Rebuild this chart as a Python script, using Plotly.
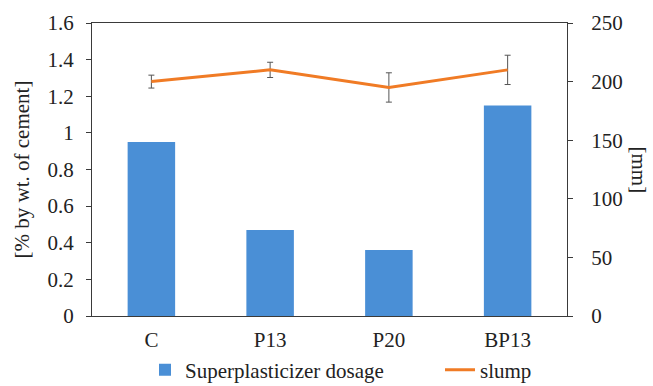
import plotly.graph_objects as go

categories = ["C", "P13", "P20", "BP13"]
sp_dosage = [0.95, 0.47, 0.36, 1.15]
slump = [200, 210, 195, 210]
slump_err = [5.5, 6.5, 12.5, 12.5]

left_ticks = [0, 0.2, 0.4, 0.6, 0.8, 1, 1.2, 1.4, 1.6]
left_labels = ["0", "0.2", "0.4", "0.6", "0.8", "1", "1.2", "1.4", "1.6"]
right_ticks = [0, 50, 100, 150, 200, 250]

FONT = "Liberation Serif"
FS = 21
AX = "#3a3a3a"

fig = go.Figure()
fig.add_trace(go.Bar(
    x=categories, y=sp_dosage, name="Superplasticizer dosage",
    marker=dict(color="#4a8fd6", line=dict(width=0)),
    yaxis="y", legend="legend",
))
fig.add_trace(go.Scatter(
    x=categories, y=slump, name="slump", mode="lines",
    line=dict(color="#f07b25", width=3),
    error_y=dict(type="data", array=slump_err, visible=True,
                 color="#555555", thickness=1, width=3),
    yaxis="y2", legend="legend2",
))

leg_common = dict(orientation="h", yref="container", y=(386 - 370) / 386,
                  yanchor="middle", font=dict(size=21, family=FONT),
                  bgcolor="rgba(0,0,0,0)")

fig.update_layout(
    width=653, height=386,
    margin=dict(l=92, r=86, t=23, b=70, autoexpand=False),
    paper_bgcolor="white", plot_bgcolor="white",
    font=dict(family=FONT, size=FS, color="#222222"),
    bargap=0.6,
    showlegend=True,
    legend=dict(x=(145 - 92) / 475, xanchor="left", **leg_common),
    legend2=dict(x=(440 - 92) / 475, xanchor="left", **leg_common),
    xaxis=dict(showline=True, linecolor=AX, linewidth=1.3, mirror=True,
               ticks="outside", ticklen=5, tickcolor="rgba(0,0,0,0)",
               ticklabelstandoff=0, automargin=False,
               showgrid=False, zeroline=False),
    yaxis=dict(range=[0, 1.6], tickvals=left_ticks, ticktext=left_labels,
               showline=True, linecolor=AX, linewidth=1.3,
               ticks="outside", ticklen=5, tickcolor=AX,
               ticklabelstandoff=8, automargin=False,
               showgrid=False, zeroline=False,
               title=dict(text="[% by wt. of cement]", standoff=12,
                          font=dict(size=FS, family=FONT))),
    yaxis2=dict(range=[0, 250], tickvals=right_ticks, overlaying="y",
                side="right", showline=True, linecolor=AX, linewidth=1.3,
                ticks="outside", ticklen=5, tickcolor=AX,
                ticklabelstandoff=14, automargin=False,
                showgrid=False, zeroline=False),
    annotations=[dict(text="[mm]", textangle=90, xref="paper", yref="paper",
                      x=1, xshift=72, y=0.5, showarrow=False,
                      xanchor="center", yanchor="middle",
                      font=dict(size=FS, family=FONT))],
)

fig.write_html("out.html")
